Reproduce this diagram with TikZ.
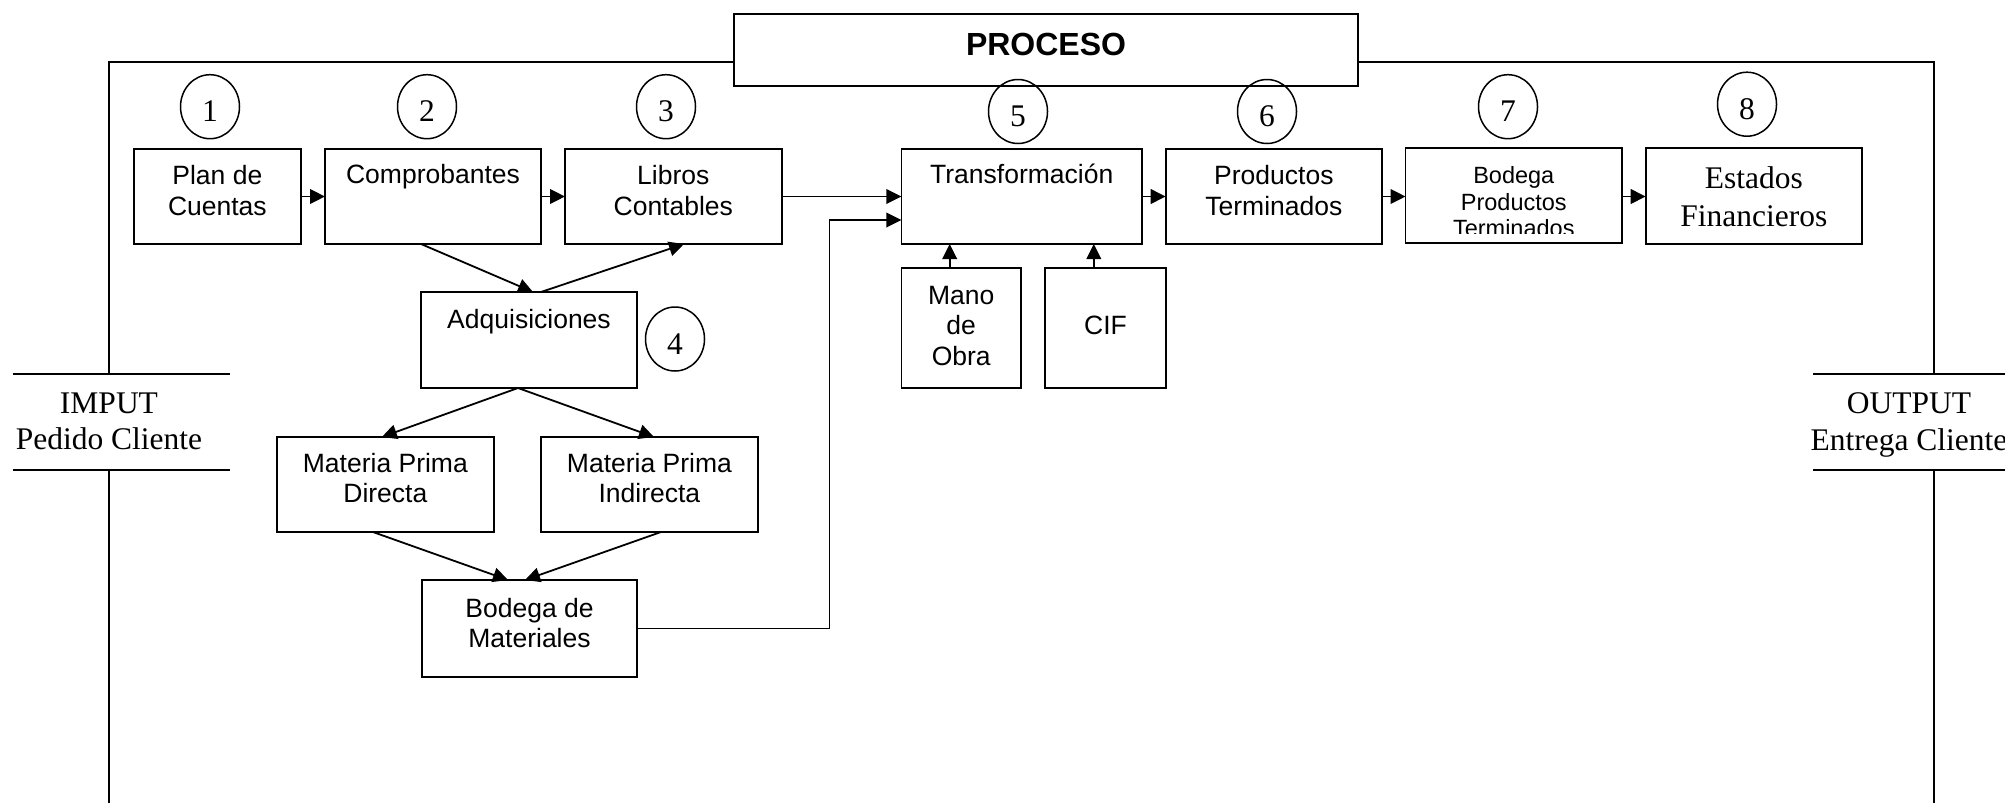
\documentclass[tikz,border=0pt]{standalone}
\usepackage{fontspec}
\setmainfont{Liberation Serif}
\newfontfamily\arialfam{Liberation Sans}
\usetikzlibrary{arrows.meta,shapes.geometric,fit,calc}
\newcommand\sansbig{\arialfam\fontsize{13.25pt}{15.3pt}\selectfont}
\newcommand\sanssmall{\arialfam\fontsize{11.75pt}{13.2pt}\selectfont}
\newcommand\serifbig{\fontsize{15.75pt}{19.2pt}\selectfont}
\newcommand\txtblock[2]{\parbox[t]{130pt}{\centering #1 #2}}
\begin{document}
\begin{tikzpicture}[x=0.5pt,y=-0.5pt,line width=0.9pt,
  bx/.style={draw,rectangle,inner sep=0pt,outer sep=0pt},
  num/.style={draw,ellipse,minimum width=29.5pt,minimum height=32pt,inner sep=0pt,
    font=\serifbig,text height=15.15pt,text depth=0pt,line width=0.75pt},
  lbl/.style={anchor=base,inner sep=0pt},
  arr/.style={-{Triangle[length=7.5pt,width=7.3pt]}}]
\useasboundingbox (0,0) rectangle (2005,803);
\clip (0,0) rectangle (2005,803);

% boxes
\node[bx,fit={(734,14) (1358,86)}] (proceso) {};
\node[bx,fit={(133.7,149) (301,244)}] (plan) {};
\node[bx,fit={(325,149) (541,244)}] (comp) {};
\node[bx,fit={(565,149) (781.6,244)}] (libros) {};
\node[bx,fit={(901.4,149) (1142,244)}] (trans) {};
\node[bx,fit={(1165.7,149) (1382,244)}] (prod) {};
\node[bx,fit={(1405.5,148) (1622,243)}] (bodpt) {};
\node[bx,fit={(1645.7,148) (1862,244)}] (estados) {};
\node[bx,fit={(421,292) (637,388)}] (adq) {};
\node[bx,fit={(277,437) (493.7,532)}] (mpd) {};
\node[bx,fit={(541,437) (757.8,532)}] (mpi) {};
\node[bx,fit={(422,580) (637,677)}] (bodm) {};
\node[bx,fit={(901.4,267.7) (1021,388)}] (mano) {};
\node[bx,fit={(1045,267.7) (1166,388)}] (cif) {};

% labels
\node[lbl,font=\arialfam\bfseries\fontsize{16pt}{19pt}\selectfont] (proctxt) at (1046,55) {PROCESO};
\node[lbl] (plantxt) at ([yshift=-17.8pt]plan.north) {\txtblock\sansbig{Plan de\\Cuentas}};
\node[lbl] (comptxt) at ([yshift=-17.3pt]comp.north) {\txtblock\sansbig{Comprobantes}};
\node[lbl] (librostxt) at ([yshift=-17.8pt]libros.north) {\txtblock\sansbig{Libros\\Contables}};
\node[lbl] (transtxt) at ([yshift=-17.3pt]trans.north) {\txtblock\sansbig{Transformación}};
\node[lbl] (prodtxt) at ([yshift=-17.8pt]prod.north) {\txtblock\sansbig{Productos\\Terminados}};
\begin{scope}
\clip (bodpt.north west) rectangle ([yshift=-42.5pt]bodpt.north east);
\node[lbl] (bodpttxt) at ([yshift=-17.8pt]bodpt.north) {\txtblock\sanssmall{Bodega\\Productos\\Terminados}};
\end{scope}
\node[lbl] (estadostxt) at ([yshift=-20pt]estados.north) {\txtblock\serifbig{Estados\\Financieros}};
\node[lbl] (adqtxt) at ([yshift=-18pt]adq.north) {\txtblock\sansbig{Adquisiciones}};
\node[lbl] (mpdtxt) at ([yshift=-17.5pt]mpd.north) {\txtblock\sansbig{Materia Prima\\Directa}};
\node[lbl] (mpitxt) at ([yshift=-17.5pt]mpi.north) {\txtblock\sansbig{Materia Prima\\Indirecta}};
\node[lbl] (bodmtxt) at ([yshift=-18.5pt]bodm.north) {\txtblock\sansbig{Bodega de\\Materiales}};
\node[lbl] (manotxt) at ([yshift=-18.3pt]mano.north) {\txtblock\sansbig{Mano\\de\\Obra}};
\node[lbl] (ciftxt) at ([yshift=-33.6pt]cif.north) {\txtblock\sansbig{CIF}};

% numbered circles
\node[num] (n1) at (210,106.7) {1};
\node[num] (n2) at (427,106.7) {2};
\node[num] (n3) at (666,106.7) {3};
\node[num] (n4) at (675,339) {4};
\node[num] (n5) at (1018,111.5) {5};
\node[num] (n6) at (1267,111.5) {6};
\node[num] (n7) at (1508,106.7) {7};
\node[num] (n8) at (1747,104.2) {8};

% input / output
\node[lbl,font=\serifbig] (imput) at (109,413.5) {IMPUT};
\node[lbl,font=\serifbig] (pedido) at (109,449.5) {Pedido Cliente};
\node[lbl,font=\serifbig] (output) at (1909,413) {OUTPUT};
\node[lbl,font=\serifbig] (entrega) at (1909,450) {Entrega Cliente};

% frame
\coordinate (tl) at (108.7,61.7);
\coordinate (tr) at (1934,61.7);
\draw (108.7,374) -- (tl) -- (tl -| proceso.west);
\draw (proceso.east |- tr) -- (tr) -- (1934,374.3);
\draw (108.7,470) -- (108.7,803);
\draw (1934,470) -- (1934,803);
\draw (12.7,374) -- (229.6,374);
\draw (12.7,470) -- (229.6,470);
\draw (1813,374.3) -- (2005,374.3);
\draw (1813,470) -- (2005,470);

% arrows along top row
\draw[arr] (plan) -- (comp);
\draw[arr] (comp) -- (libros);
\draw[arr] (libros) -- (trans);
\draw[arr] (trans) -- (prod);
\draw[arr] (prod.east) -- (prod.east -| bodpt.west);
\draw[arr] (bodpt.east |- prod.east) -- (prod.east -| estados.west);

% diagonal arrows
\draw[arr] ([xshift=-6pt]comp.south) -- ([xshift=2pt]adq.north);
\draw[arr] ([xshift=6pt]adq.north) -- ([xshift=5.35pt]libros.south);
\draw[arr] ([xshift=-5.5pt]adq.south) -- ([xshift=-1.75pt]mpd.north);
\draw[arr] ([xshift=-5.5pt]adq.south) -- ([xshift=2.3pt]mpi.north);
\draw[arr] ([xshift=-6.2pt]mpd.south) -- ([xshift=-10.75pt]bodm.north);
\draw[arr] ([xshift=5.8pt]mpi.south) -- ([xshift=-2.25pt]bodm.north);

% bodega de materiales to transformacion
\coordinate (elbow) at (829.5,220);
\draw[arr] (bodm.east) -| (elbow) -- (elbow -| trans.west);

% mano de obra, CIF
\coordinate (m1) at ([xshift=-5.75pt]mano.north);
\coordinate (c1) at ([xshift=-5.85pt]cif.north);
\draw[arr] (m1) -- (m1 |- trans.south);
\draw[arr] (c1) -- (c1 |- trans.south);
\end{tikzpicture}
\end{document}
